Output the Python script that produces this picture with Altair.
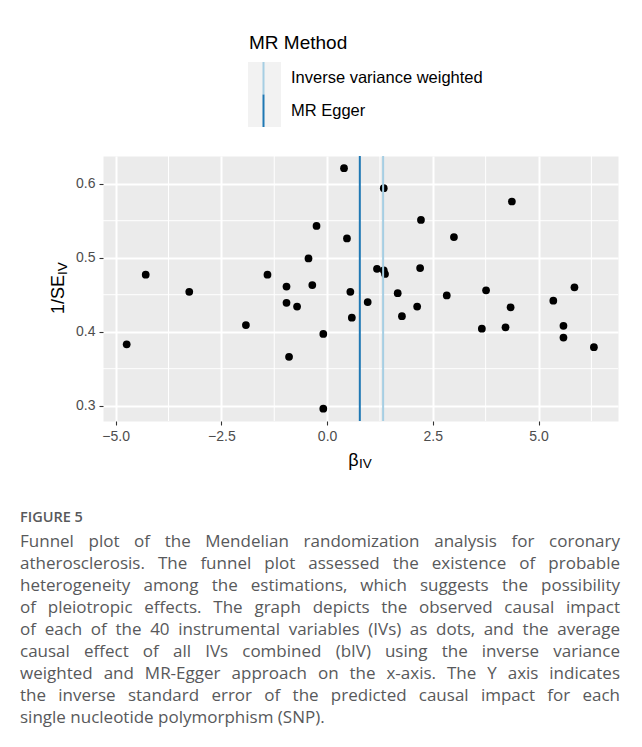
import altair as alt
import pandas as pd

# ---- data ----
beta_iv = [-4.74, -4.29, -3.26, -1.92, -1.41, -0.96, -0.96, -0.71, -0.90, -0.44,
           -0.35, -0.25, -0.09, -0.09, 0.40, 0.47, 0.55, 0.585, 0.96, 1.18,
           1.34, 1.37, 1.34, 1.67, 1.77, 2.13, 2.20, 2.22, 2.83, 3.00,
           3.76, 4.34, 4.37, 5.35, 5.85, 3.66, 4.22, 5.59, 5.59, 6.31]
inv_se_iv = [0.383, 0.477, 0.454, 0.409, 0.477, 0.461, 0.439, 0.434, 0.366, 0.499,
             0.463, 0.543, 0.397, 0.296, 0.621, 0.526, 0.454, 0.419, 0.440, 0.485,
             0.483, 0.478, 0.594, 0.452, 0.421, 0.434, 0.486, 0.551, 0.449, 0.528,
             0.456, 0.433, 0.576, 0.442, 0.460, 0.404, 0.406, 0.408, 0.392, 0.379]

methods = ["Inverse variance weighted", "MR Egger"]
method_b = [1.325, 0.774]
method_colors = ["#a6cee3", "#1f78b4"]

x_major = [-5.0, -2.5, 0.0, 2.5, 5.0]
x_minor = [-3.75, -1.25, 1.25, 3.75, 6.25]
y_major = [0.3, 0.4, 0.5, 0.6]
y_minor = [0.35, 0.45, 0.55]

x_domain = [-5.30, 6.88]
y_domain = [0.2793, 0.6375]

legend_title = "MR Method"
x_title_main, x_title_sub = "β", "IV"
y_title_main, y_title_sub = "1/SE", "IV"

caption_head = "FIGURE 5"
caption_lines = [
    "Funnel plot of the Mendelian randomization analysis for coronary",
    "atherosclerosis. The funnel plot assessed the existence of probable",
    "heterogeneity among the estimations, which suggests the possibility",
    "of pleiotropic effects. The graph depicts the observed causal impact",
    "of each of the 40 instrumental variables (IVs) as dots, and the average",
    "causal effect of all IVs combined (bIV) using the inverse variance",
    "weighted and MR-Egger approach on the x-axis. The Y axis indicates",
    "the inverse standard error of the predicted causal impact for each",
    "single nucleotide polymorphism (SNP).",
]

FONT = "Liberation Sans"

# ---- legend layout (relative to the plot origin) ----
KEY_X0, KEY_X1 = 145, 178
KEY_TOP, KEY_ROW = -94, 32.5
key_rows = []
for i, m in enumerate(methods):
    key_rows.append({"method": m,
                     "y1": KEY_TOP + i * KEY_ROW,
                     "y2": KEY_TOP + (i + 1) * KEY_ROW,
                     "ym": KEY_TOP + (i + 0.5) * KEY_ROW})
key_df = pd.DataFrame(key_rows)

# ---- caption layout (justified text, approximate Open Sans advance widths /2048) ----
CAP_SIZE = 17
CAP_LEFT, CAP_RIGHT = -83, 517
CAP_TOP, CAP_LH = 377.5, 22
OS_W = {
    " ": 532, "(": 596, ")": 596, ".": 545, ",": 500, "-": 659,
    "A": 1296, "B": 1327, "C": 1292, "D": 1493, "E": 1139, "F": 1057, "G": 1491,
    "H": 1511, "I": 571, "J": 547, "K": 1257, "L": 1073, "M": 1849, "N": 1544,
    "O": 1595, "P": 1233, "Q": 1595, "R": 1266, "S": 1124, "T": 1139, "U": 1491,
    "V": 1219, "W": 1896, "X": 1182, "Y": 1147, "Z": 1169,
    "a": 1139, "b": 1255, "c": 975, "d": 1255, "e": 1149, "f": 694, "g": 1122,
    "h": 1257, "i": 518, "j": 518, "k": 1075, "l": 518, "m": 1905, "n": 1257,
    "o": 1237, "p": 1255, "q": 1255, "r": 836, "s": 977, "t": 723, "u": 1257,
    "v": 1026, "w": 1593, "x": 1073, "y": 1028, "z": 958,
}


def text_w(s):
    return sum(OS_W.get(c, 1171) for c in s) / 2048 * CAP_SIZE


left_rows, right_rows = [], []
for i, line in enumerate(caption_lines):
    y = CAP_TOP + i * CAP_LH
    words = line.split(" ")
    if i == len(caption_lines) - 1 or len(words) < 2:
        left_rows.append({"w": line, "px": CAP_LEFT, "py": y})
        continue
    widths = [text_w(w) for w in words]
    gap = (CAP_RIGHT - CAP_LEFT - sum(widths)) / (len(words) - 1)
    x = CAP_LEFT
    for j, (w, wd) in enumerate(zip(words, widths)):
        if j == len(words) - 1:
            right_rows.append({"w": w, "px": CAP_RIGHT, "py": y})
        else:
            left_rows.append({"w": w, "px": x, "py": y})
        x += wd + gap

# ---- tables ----
pts = pd.DataFrame({"beta": beta_iv, "inv_se": inv_se_iv})
mr = pd.DataFrame({"method": methods, "b": method_b})
xmin = pd.DataFrame({"v": x_minor})
ymin = pd.DataFrame({"v": y_minor})
one = pd.DataFrame({"k": [0]})

xs = alt.Scale(domain=x_domain, nice=False, zero=False)
ys = alt.Scale(domain=y_domain, nice=False, zero=False)
cs = alt.Scale(domain=methods, range=method_colors)

grid_x = alt.Chart(xmin).mark_rule(color="white", strokeWidth=1).encode(
    x=alt.X("v:Q", scale=xs, title=None))
grid_y = alt.Chart(ymin).mark_rule(color="white", strokeWidth=1).encode(
    y=alt.Y("v:Q", scale=ys, title=None))

points = alt.Chart(pts).mark_circle(size=60, color="black", opacity=1).encode(
    x=alt.X("beta:Q", scale=xs, title=None,
            axis=alt.Axis(values=x_major, format=".1f", labelFlush=False)),
    y=alt.Y("inv_se:Q", scale=ys, title=None,
            axis=alt.Axis(values=y_major, format=".1f")),
)

lines = alt.Chart(mr).mark_rule(strokeWidth=2).encode(
    x=alt.X("b:Q", scale=xs, title=None),
    color=alt.Color("method:N", scale=cs, legend=None),
)

# legend: key background, key lines, labels, title
key_bg = alt.Chart(one).mark_rect(color="#f2f2f2").encode(
    x=alt.value(KEY_X0), x2=alt.value(KEY_X1),
    y=alt.value(KEY_TOP), y2=alt.value(KEY_TOP + KEY_ROW * len(methods)))
key_lines = alt.Chart(key_df).mark_rule(strokeWidth=2).encode(
    x=alt.value((KEY_X0 + KEY_X1) / 2 - 1),
    y=alt.Y("y1:Q", scale=None, axis=None),
    y2="y2:Q",
    color=alt.Color("method:N", scale=cs, legend=None),
)
key_labels = alt.Chart(key_df).mark_text(
    font=FONT, fontSize=16.5, align="left", baseline="middle", color="black").encode(
    x=alt.value(188),
    y=alt.Y("ym:Q", scale=None, axis=None),
    text="method:N",
)
key_title = alt.Chart(one).mark_text(
    font=FONT, fontSize=19, align="left", baseline="alphabetic", color="black").encode(
    x=alt.value(146), y=alt.value(-107.5), text=alt.value(legend_title))

xt1 = alt.Chart(one).mark_text(font=FONT, fontSize=18, align="right",
                               baseline="alphabetic", color="black").encode(
    x=alt.value(255.5), y=alt.value(309.5), text=alt.value(x_title_main))
xt2 = alt.Chart(one).mark_text(font=FONT, fontSize=13.5, align="left",
                               baseline="alphabetic", color="black").encode(
    x=alt.value(256), y=alt.value(312.3), text=alt.value(x_title_sub))

yt1 = alt.Chart(one).mark_text(font=FONT, fontSize=18, align="right", angle=270,
                               baseline="alphabetic", color="black").encode(
    x=alt.value(-39), y=alt.value(119), text=alt.value(y_title_main))
yt2 = alt.Chart(one).mark_text(font=FONT, fontSize=13.5, align="left", angle=270,
                               baseline="alphabetic", color="black").encode(
    x=alt.value(-36), y=alt.value(119), text=alt.value(y_title_sub))

cap_head = alt.Chart(one).mark_text(font="Open Sans", fontSize=14.5, fontWeight=600,
                                    align="left", baseline="middle",
                                    color="#58595b").encode(
    x=alt.value(-83), y=alt.value(362), text=alt.value(caption_head))
cap_left = alt.Chart(pd.DataFrame(left_rows)).mark_text(
    font="Open Sans", fontSize=CAP_SIZE, align="left", baseline="top",
    color="#58595b").encode(
    x=alt.X("px:Q", scale=None, axis=None),
    y=alt.Y("py:Q", scale=None, axis=None),
    text="w:N")
cap_right = alt.Chart(pd.DataFrame(right_rows)).mark_text(
    font="Open Sans", fontSize=CAP_SIZE, align="right", baseline="top",
    color="#58595b").encode(
    x=alt.X("px:Q", scale=None, axis=None),
    y=alt.Y("py:Q", scale=None, axis=None),
    text="w:N")

chart = alt.layer(
    grid_x, grid_y, points, lines,
    key_bg, key_lines, key_labels, key_title,
    xt1, xt2, yt1, yt2,
    cap_head, cap_left, cap_right
).properties(
    width=515, height=265,
    padding={"left": 95, "top": 148, "right": 16, "bottom": 315},
    autosize=alt.AutoSizeParams(type="none"),
    background="white",
).configure_view(
    fill="#ebebeb", stroke="transparent"
).configure_axis(
    grid=True, gridColor="white", gridWidth=2, domain=False,
    tickColor="#333333", tickSize=4, tickWidth=1.1,
    labelColor="#4d4d4d", labelFontSize=14, labelFont=FONT, labelPadding=4,
)

chart.save("out.html", embed_options={"renderer": "svg", "actions": False})
